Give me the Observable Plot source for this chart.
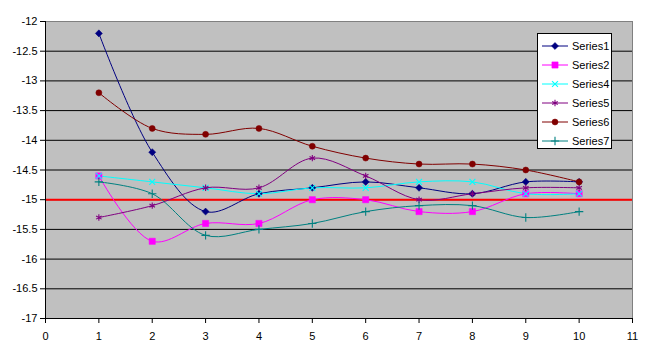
<!DOCTYPE html>
<html><head><meta charset="utf-8">
<script src="https://cdn.jsdelivr.net/npm/d3@7"></script>
<script src="https://cdn.jsdelivr.net/npm/@observablehq/plot@0.6"></script>
<style>
body{margin:0;background:#fff;font-family:"Liberation Sans",Arial,sans-serif;}
#wrap{position:relative;width:649px;height:354px;}
#legend{position:absolute;left:537px;top:33px;width:75px;height:116px;border:1px solid #000;background:#fff;box-sizing:border-box;padding-top:2px;}
.row{display:flex;align-items:center;height:19px;font-size:11px;color:#000;}
.row svg{margin-left:4px;margin-right:4px;}
</style></head>
<body><div id="wrap"><div id="legend"></div></div>
<script>
const xValues = [1,2,3,4,5,6,7,8,9,10];
const series1 = [-12.2,-14.2,-15.2,-14.9,-14.8,-14.7,-14.8,-14.9,-14.7,-14.7];
const series2 = [-14.6,-15.7,-15.4,-15.4,-15.0,-15.0,-15.2,-15.2,-14.9,-14.9];
const series4 = [-14.6,-14.7,-14.8,-14.9,-14.8,-14.8,-14.7,-14.7,-14.9,-14.9];
const series5 = [-15.3,-15.1,-14.8,-14.8,-14.3,-14.6,-15.0,-14.9,-14.8,-14.8];
const series6 = [-13.2,-13.8,-13.9,-13.8,-14.1,-14.3,-14.4,-14.4,-14.5,-14.7];
const series7 = [-14.7,-14.9,-15.6,-15.5,-15.4,-15.2,-15.1,-15.1,-15.3,-15.2];
const referenceValue = -15;
const seriesNames = ["Series1","Series2","Series4","Series5","Series6","Series7"];
const xTicks = [0,1,2,3,4,5,6,7,8,9,10,11];
const yTicks = [-17,-16.5,-16,-15.5,-15,-14.5,-14,-13.5,-13,-12.5,-12];

const seriesValues = [series1,series2,series4,series5,series6,series7];
const styles = [
  {color:"#000080", symbol:"square", rotate:45, filled:true, r:2.8},
  {color:"#ff00ff", symbol:"square", rotate:0, filled:true, r:3.5},
  {color:"#00ffff", symbol:"times", rotate:0, filled:false, r:2.8},
  {color:"#800080", symbol:"asterisk", rotate:0, filled:false, r:3},
  {color:"#800000", symbol:"circle", rotate:0, filled:true, r:3},
  {color:"#008080", symbol:"plus", rotate:0, filled:false, r:2.8}
];

const marks = [
  Plot.frame({fill:"#c0c0c0", stroke:"#808080"}),
  Plot.ruleY(yTicks.filter(d => d > -17 && d < -12), {stroke:"#000", strokeWidth:1}),
  Plot.ruleY([referenceValue], {stroke:"#ff0000", strokeWidth:2})
];
seriesValues.forEach((vals, i) => {
  const data = xValues.map((x, j) => ({x, y: vals[j]}));
  const s = styles[i];
  marks.push(Plot.line(data, {x:"x", y:"y", stroke:s.color, strokeWidth:1, curve:"catmull-rom"}));
});
seriesValues.forEach((vals, i) => {
  const data = xValues.map((x, j) => ({x, y: vals[j]}));
  const s = styles[i];
  marks.push(Plot.dot(data, {x:"x", y:"y", symbol:s.symbol, r:s.r, rotate:s.rotate,
    fill: s.filled ? s.color : "none", stroke: s.color, strokeWidth: s.filled ? 0.5 : 1.1}));
});
marks.push(
  Plot.ruleX([0], {stroke:"#000", strokeWidth:1}),
  Plot.ruleY([-17], {stroke:"#000", strokeWidth:1}),
  Plot.axisX({ticks:xTicks, tickSize:5, tickPadding:9, tickFormat:d => String(d), label:null}),
  Plot.axisY({ticks:yTicks, tickSize:5, tickPadding:3, tickFormat:d => String(d), label:null})
);

const chart = Plot.plot({
  width:649, height:354,
  marginLeft:45, marginRight:17, marginTop:21, marginBottom:36,
  x:{domain:[0,11], label:null},
  y:{domain:[-17,-12], label:null},
  style:{fontFamily:"'Liberation Sans', Arial, sans-serif", fontSize:"11px", color:"#000", background:"#fff"},
  marks
});
document.getElementById("wrap").prepend(chart);

const legend = d3.select("#legend");
const symMap = {square:d3.symbolSquare, times:d3.symbolTimes, asterisk:d3.symbolAsterisk, circle:d3.symbolCircle, plus:d3.symbolPlus};
seriesNames.forEach((name, i) => {
  const s = styles[i];
  const row = legend.append("div").attr("class","row");
  const svg = row.append("svg").attr("width",26).attr("height",12);
  svg.append("line").attr("x1",0).attr("x2",26).attr("y1",6).attr("y2",6).attr("stroke",s.color).attr("stroke-width",1);
  svg.append("path").attr("transform",`translate(13,6) rotate(${s.rotate})`)
    .attr("d", d3.symbol(symMap[s.symbol], Math.PI*s.r*s.r)())
    .attr("fill", s.filled ? s.color : "none").attr("stroke", s.color).attr("stroke-width", s.filled ? 0.5 : 1.1);
  row.append("span").text(name);
});
</script></body></html>
